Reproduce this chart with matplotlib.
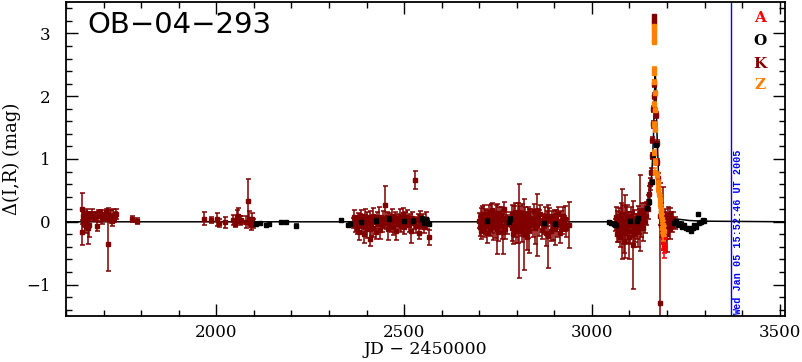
import matplotlib
matplotlib.use("Agg")
import matplotlib.pyplot as plt
from matplotlib.ticker import MultipleLocator

# ---------------- data (JD-2450000, delta mag, error) ----------------
k_season1 = [(1642, 0.21, 0.25), (1643, -0.17, 0.2), (1645, 0.09, 0.06), (1647, -0.04, 0.05),
             (1650, 0.12, 0.05), (1652, -0.08, 0.1), (1655, 0.05, 0.15), (1658, -0.10, 0.25),
             (1660, -0.05, 0.2), (1662, 0.10, 0.06), (1665, 0.07, 0.05), (1668, 0.12, 0.08),
             (1671, 0.10, 0.05), (1674, 0.08, 0.06), (1677, 0.10, 0.05), (1680, 0.11, 0.05),
             (1683, -0.07, 0.08), (1686, 0.09, 0.1), (1690, 0.14, 0.05), (1694, 0.12, 0.06),
             (1697, 0.04, 0.08), (1700, 0.06, 0.05), (1703, 0.07, 0.06), (1706, 0.15, 0.05),
             (1711, -0.36, 0.43), (1713, 0.12, 0.1), (1716, 0.10, 0.08), (1719, 0.08, 0.1),
             (1722, 0.02, 0.08), (1725, 0.10, 0.1), (1728, 0.06, 0.06), (1731, 0.11, 0.05),
             (1734, 0.12, 0.08), (1777, 0.04, 0.05), (1790, 0.01, 0.05)]

k_season2 = [(1967, 0.05, 0.1), (1986, 0.03, 0.05), (2003, 0.04, 0.1), (2008, -0.02, 0.07),
             (2023, -0.01, 0.09), (2045, 0.03, 0.08), (2050, -0.03, 0.06), (2054, 0.08, 0.1),
             (2058, 0.10, 0.12), (2062, 0.02, 0.07), (2066, 0.03, 0.06), (2080, 0.0, 0.1),
             (2084, 0.33, 0.35), (2088, 0.05, 0.12), (2092, -0.05, 0.08), (2096, 0.04, 0.1),
             (2099, -0.03, 0.07)]

k_season3 = [(2364, -0.02, 0.08), (2367, 0.08, 0.1), (2369, -0.05, 0.12), (2372, 0.03, 0.06),
             (2374, -0.10, 0.1), (2377, 0.06, 0.08), (2379, -0.17, 0.12), (2382, 0.02, 0.1),
             (2384, 0.10, 0.08), (2387, -0.06, 0.1), (2389, 0.04, 0.07), (2392, -0.20, 0.13),
             (2395, 0.09, 0.12), (2397, -0.03, 0.08), (2400, 0.05, 0.1), (2402, -0.12, 0.14),
             (2405, 0.00, 0.06), (2408, -0.27, 0.12), (2410, 0.07, 0.1), (2413, -0.08, 0.15),
             (2416, 0.10, 0.12), (2418, -0.10, 0.15), (2421, 0.03, 0.07), (2424, -0.16, 0.12),
             (2427, 0.06, 0.1), (2430, -0.04, 0.08), (2433, 0.08, 0.15), (2436, -0.13, 0.14),
             (2439, 0.02, 0.08), (2442, -0.07, 0.1), (2445, 0.05, 0.12), (2449, 0.27, 0.3),
             (2452, -0.02, 0.1), (2455, 0.08, 0.08), (2458, -0.11, 0.18), (2461, 0.04, 0.1),
             (2464, -0.05, 0.12), (2467, 0.10, 0.1), (2470, -0.09, 0.12), (2473, 0.01, 0.08),
             (2476, 0.06, 0.1), (2479, -0.14, 0.15), (2482, 0.03, 0.1), (2485, -0.03, 0.1),
             (2488, 0.09, 0.12), (2491, -0.06, 0.1), (2494, 0.02, 0.07), (2497, 0.12, 0.1),
             (2500, -0.08, 0.12), (2503, 0.05, 0.1), (2506, -0.01, 0.08), (2509, 0.08, 0.1),
             (2512, -0.05, 0.12), (2515, 0.04, 0.08), (2519, -0.14, 0.2), (2522, 0.06, 0.1),
             (2526, -0.02, 0.1), (2530, 0.67, 0.14), (2533, -0.06, 0.12), (2537, 0.03, 0.1),
             (2540, -0.18, 0.1), (2543, 0.07, 0.1), (2546, -0.04, 0.08), (2550, 0.02, 0.1),
             (2554, -0.08, 0.1), (2558, 0.05, 0.1), (2562, -0.03, 0.08), (2566, -0.25, 0.12)]

k_season4 = [(2700, 0.02, 0.12), (2702, -0.08, 0.15), (2704, 0.10, 0.12), (2706, -0.15, 0.12),
             (2708, 0.05, 0.2), (2710, -0.05, 0.1), (2712, 0.12, 0.15), (2714, -0.10, 0.14),
             (2716, 0.00, 0.2), (2718, 0.07, 0.12), (2720, -0.18, 0.15), (2723, 0.03, 0.1),
             (2725, -0.06, 0.15), (2727, 0.15, 0.12), (2729, -0.12, 0.1), (2731, 0.08, 0.2),
             (2733, -0.03, 0.15), (2735, 0.18, 0.12), (2737, -0.09, 0.2), (2740, 0.05, 0.12),
             (2742, -0.06, 0.2), (2744, 0.11, 0.15), (2747, -0.11, 0.4), (2749, 0.04, 0.12),
             (2751, -0.16, 0.15), (2753, 0.14, 0.1), (2755, -0.02, 0.15), (2758, 0.08, 0.15),
             (2761, -0.07, 0.2), (2764, -0.17, 0.35), (2766, 0.20, 0.12), (2769, -0.12, 0.15),
             (2772, 0.06, 0.1), (2775, -0.04, 0.15), (2784, 0.03, 0.12), (2786, -0.10, 0.2),
             (2788, 0.12, 0.15), (2790, -0.20, 0.15), (2792, 0.05, 0.2), (2794, -0.06, 0.18),
             (2796, 0.15, 0.15), (2798, -0.14, 0.2), (2800, 0.02, 0.15), (2802, -0.08, 0.25),
             (2804, 0.10, 0.2), (2807, -0.15, 0.75), (2809, 0.07, 0.18), (2811, -0.03, 0.2),
             (2813, 0.13, 0.15), (2815, -0.12, 0.2), (2817, 0.04, 0.12), (2819, -0.20, 0.57),
             (2821, 0.09, 0.15), (2823, -0.05, 0.2), (2825, 0.01, 0.15), (2827, -0.25, 0.2),
             (2829, 0.11, 0.12), (2831, -0.08, 0.18), (2833, -0.15, 0.35), (2836, 0.06, 0.15),
             (2839, 0.02, 0.15), (2842, -0.04, 0.2), (2845, 0.17, 0.12), (2848, -0.10, 0.25),
             (2851, 0.05, 0.15), (2855, -0.05, 0.5), (2857, 0.08, 0.12), (2860, -0.02, 0.2),
             (2863, 0.12, 0.15), (2866, -0.13, 0.15), (2869, 0.03, 0.1), (2872, -0.07, 0.12),
             (2875, 0.09, 0.15), (2878, -0.18, 0.2), (2881, 0.05, 0.12), (2884, -0.23, 0.5),
             (2887, 0.10, 0.12), (2890, -0.15, 0.15), (2893, 0.02, 0.15), (2896, -0.09, 0.2),
             (2899, 0.07, 0.12), (2902, -0.12, 0.25), (2905, 0.04, 0.15), (2908, -0.05, 0.2),
             (2911, 0.12, 0.12), (2914, -0.18, 0.15), (2917, 0.02, 0.15), (2920, -0.08, 0.12),
             (2923, 0.09, 0.15), (2926, -0.03, 0.12), (2929, 0.05, 0.2), (2932, -0.10, 0.15),
             (2939, -0.05, 0.36)]

k_season5 = [(3062, -0.05, 0.1), (3064, 0.08, 0.15), (3066, -0.20, 0.12), (3068, 0.02, 0.15),
             (3070, -0.12, 0.2), (3072, 0.10, 0.12), (3074, -0.25, 0.15), (3076, -0.05, 0.2),
             (3078, 0.05, 0.25), (3080, -0.03, 0.56), (3082, -0.15, 0.2), (3084, 0.12, 0.15),
             (3086, -0.30, 0.2), (3088, -0.08, 0.5), (3090, 0.03, 0.2), (3092, -0.18, 0.15),
             (3094, 0.06, 0.2), (3096, -0.10, 0.25), (3098, -0.25, 0.35), (3100, 0.00, 0.15),
             (3102, -0.14, 0.2), (3104, 0.09, 0.15), (3106, -0.05, 0.2), (3109, -0.37, 0.7),
             (3111, -0.20, 0.2), (3113, 0.04, 0.15), (3115, -0.12, 0.2), (3117, -0.02, 0.15),
             (3120, -0.08, 0.2), (3122, 0.10, 0.15), (3124, -0.15, 0.25), (3126, 0.00, 0.2),
             (3129, 0.14, 0.6), (3131, -0.05, 0.2), (3133, 0.15, 0.15), (3135, -0.10, 0.2),
             (3137, 0.05, 0.15), (3139, 0.18, 0.12), (3141, 0.00, 0.18), (3143, 0.20, 0.12),
             (3145, 0.10, 0.15), (3148, 0.30, 0.12), (3150, 0.20, 0.15), (3153, 0.45, 0.12),
             (3155, 0.60, 0.1)]

k_peak = [(3158, 0.80, 0.05), (3160, 1.05, 0.05), (3161, 1.30, 0.05), (3162, 1.55, 0.05),
          (3163, 1.80, 0.05), (3164, 2.00, 0.05), (3166, 3.28, 0.02), (3166, 3.22, 0.02),
          (3166, 3.16, 0.02), (3166, 2.20, 0.05), (3170, 1.70, 0.05), (3172, 1.25, 0.05),
          (3174, 0.95, 0.05), (3176, 0.70, 0.08)]

k_season5b = [(3180, 0.10, 0.15), (3182, -1.29, 1.9), (3183, -0.05, 0.2), (3185, 0.15, 0.15),
              (3187, -0.10, 0.12), (3189, 0.05, 0.5), (3191, -0.15, 0.15), (3193, 0.00, 0.15),
              (3195, 0.10, 0.1), (3197, -0.08, 0.2), (3199, 0.02, 0.12), (3201, -0.20, 0.28),
              (3203, 0.08, 0.15), (3205, -0.05, 0.1), (3207, 0.12, 0.1), (3209, -0.12, 0.15),
              (3211, 0.03, 0.12), (3214, -0.06, 0.1), (3217, 0.05, 0.1), (3220, -0.02, 0.1)]

o_points = [(2105, -0.03, 0.02), (2117, -0.02, 0.02), (2133, -0.05, 0.02), (2140, -0.04, 0.02),
            (2172, -0.01, 0.02), (2186, 0.00, 0.02), (2212, -0.06, 0.02),
            (2333, 0.03, 0.02), (2350, -0.05, 0.02), (2356, -0.03, 0.02), (2385, -0.01, 0.02),
            (2425, 0.02, 0.02), (2461, 0.05, 0.02), (2501, 0.01, 0.02), (2525, 0.02, 0.02),
            (2549, 0.05, 0.02), (2553, -0.02, 0.02), (2557, 0.04, 0.02), (2561, 0.00, 0.02),
            (2565, -0.03, 0.02), (2722, 0.02, 0.02), (2780, 0.00, 0.02), (2782, 0.05, 0.02),
            (2873, -0.02, 0.02), (2902, -0.03, 0.02),
            (3046, 0.00, 0.02), (3052, -0.02, 0.02), (3059, -0.03, 0.02), (3065, -0.05, 0.02),
            (3102, 0.01, 0.02), (3120, 0.02, 0.02), (3124, 0.06, 0.02), (3146, 0.22, 0.02),
            (3153, 0.32, 0.02), (3160, 0.64, 0.02), (3163, 1.07, 0.02), (3171, 1.22, 0.02),
            (3218, -0.02, 0.02), (3224, 0.01, 0.02), (3228, -0.05, 0.02), (3232, -0.03, 0.02),
            (3237, -0.03, 0.02), (3241, -0.08, 0.02), (3246, -0.05, 0.02), (3250, -0.10, 0.02),
            (3255, -0.12, 0.02), (3259, -0.10, 0.02), (3263, -0.14, 0.02), (3268, -0.10, 0.02),
            (3273, -0.05, 0.02), (3277, -0.08, 0.02), (3282, 0.12, 0.02), (3286, -0.02, 0.02),
            (3291, 0.00, 0.02), (3296, 0.03, 0.02), (3299, 0.02, 0.02)]

z_points = [(3166, 3.12, 0.02), (3166, 3.07, 0.02), (3166, 3.02, 0.02), (3166, 2.96, 0.02),
            (3166, 2.90, 0.02), (3166, 2.86, 0.02),
            (3166, 2.43, 0.03), (3166, 2.37, 0.03), (3165, 2.22, 0.03), (3167, 2.05, 0.03),
            (3165, 1.87, 0.03), (3167, 1.78, 0.03), (3166, 1.55, 0.04), (3167, 1.47, 0.04),
            (3164, 1.10, 0.04), (3168, 0.95, 0.05), (3169, 0.80, 0.05),
            (3174, 0.75, 0.05), (3176, 0.62, 0.05), (3177, 0.53, 0.05), (3179, 0.45, 0.05),
            (3180, 0.37, 0.06), (3182, 0.28, 0.06), (3183, 0.21, 0.06), (3185, 0.12, 0.06),
            (3187, 0.05, 0.08), (3187, -0.10, 0.08), (3189, -0.20, 0.1), (3190, -0.05, 0.06),
            (3192, -0.15, 0.08)]

a_points = [(3189, -0.18, 0.08), (3189, -0.25, 0.1), (3190, -0.32, 0.12), (3191, -0.38, 0.12),
            (3192, -0.42, 0.15)]

# model curve
model_jd = [1600, 3080, 3120, 3138, 3147, 3153, 3157, 3161, 3164, 3166.5, 3168.5, 3170,
            3171, 3173, 3175, 3177, 3179, 3183, 3191, 3217, 3260, 3300, 3520]
model_mag = [0.0, 0.0, 0.03, 0.10, 0.20, 0.32, 0.55, 0.95, 1.38, 2.00, 2.40, 2.20,
             1.90, 1.45, 1.12, 0.80, 0.55, 0.32, 0.14, 0.05, 0.02, 0.01, 0.0]

legend_labels = ["A", "O", "K", "Z"]
legend_colors = ["#ff0000", "#000000", "#800000", "#ff8000"]
legend_y = [3.25, 2.885, 2.52, 2.18]

event_name = "OB\u221204\u2212293"
date_stamp = "Wed Jan 05 15:52:46 UT 2005"
stamp_jd = 3371

# ---------------- plot ----------------
fig = plt.figure(figsize=(8.03, 3.62), dpi=100)
ax = fig.add_axes([66 / 803, 46 / 362, 719 / 803, 314 / 362])

ax.plot(model_jd, model_mag, color="black", lw=1.1, zorder=1)


def draw(series, color, z):
    jd = [p[0] for p in series]
    mg = [p[1] for p in series]
    er = [p[2] for p in series]
    ax.errorbar(jd, mg, yerr=er, fmt="s", ms=3.2, color=color, mec=color, mfc=color,
                ecolor=color, elinewidth=1.1, capsize=1.8, capthick=1.1, zorder=z)


for s in (k_season1, k_season2, k_season3, k_season4, k_season5, k_peak, k_season5b):
    draw(s, "#800000", 2)
draw(o_points, "#000000", 3)
draw(a_points, "#ff0000", 4)
draw(z_points, "#ff8000", 5)

ax.axvline(stamp_jd, color="blue", lw=1.0, zorder=1)
ax.text(stamp_jd + 19, -1.49, date_stamp, rotation=90, color="blue", ha="center",
        va="bottom", family="Liberation Mono", fontweight="bold", fontsize=7.3)

for lab, col, yy in zip(legend_labels, legend_colors, legend_y):
    ax.text(3447, yy, lab, color=col, ha="center", va="center", family="DejaVu Serif",
            fontweight="bold", fontsize=11)

ax.text(0.03, 0.927, event_name, transform=ax.transAxes, ha="left", va="center",
        family="DejaVu Sans", fontsize=21)

ax.set_xlim(1600, 3514)
ax.set_ylim(-1.5, 3.5)
ax.xaxis.set_major_locator(MultipleLocator(500))
ax.xaxis.set_minor_locator(MultipleLocator(100))
ax.yaxis.set_major_locator(MultipleLocator(1))
ax.yaxis.set_minor_locator(MultipleLocator(0.2))
ax.tick_params(which="both", direction="in", top=True, right=True, width=1.0,
               labelsize=12, labelfontfamily="DejaVu Serif")
ax.tick_params(which="major", length=8.6)
ax.tick_params(which="minor", length=4.3)
ax.tick_params(axis="y", pad=11)
ax.tick_params(axis="x", pad=6)
for sp in ax.spines.values():
    sp.set_linewidth(1.3)

ax.set_xlabel("JD \u2212 2450000", family="DejaVu Serif", fontsize=12.5, labelpad=0)
ax.set_ylabel("\u0394(I,R) (mag)", family="DejaVu Serif", fontsize=13, labelpad=4)

fig.savefig("out.png", dpi=100)
